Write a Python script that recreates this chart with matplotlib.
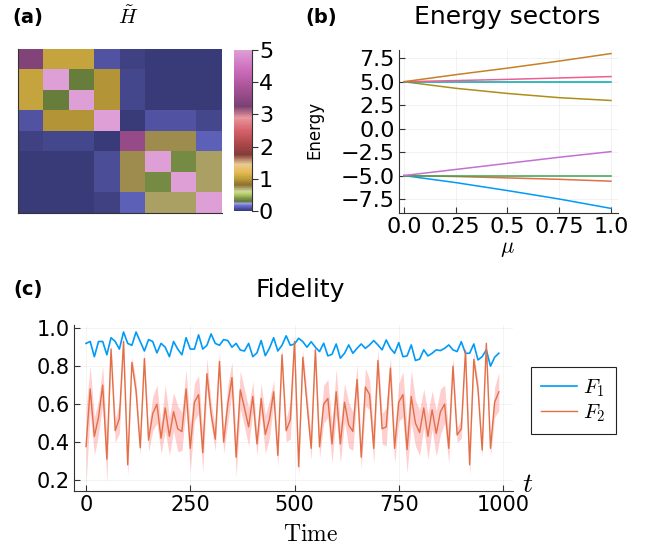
import matplotlib
matplotlib.use('Agg')
import matplotlib.pyplot as plt
import numpy as np
from matplotlib.colors import LinearSegmentedColormap

plt.rcParams['font.family'] = 'DejaVu Sans'
plt.rcParams['mathtext.fontset'] = 'cm'

# (a) matriz H~ (8x8)
H = [
    [3.35, 1.05, 1.05, 0.08, 0.02, 0.00, 0.00, 0.00],
    [1.05, 5.00, 0.32, 0.97, 0.05, 0.00, 0.01, 0.01],
    [1.05, 0.32, 5.00, 0.97, 0.05, 0.01, 0.00, 0.00],
    [0.08, 0.97, 0.97, 5.00, 0.01, 0.08, 0.08, 0.05],
    [0.03, 0.05, 0.05, 0.01, 3.60, 0.75, 0.75, 0.12],
    [0.00, 0.00, 0.01, 0.07, 0.75, 5.00, 0.36, 0.71],
    [0.00, 0.01, 0.01, 0.07, 0.75, 0.36, 5.00, 0.71],
    [0.00, 0.00, 0.00, 0.03, 0.12, 0.71, 0.71, 5.00],
]

# (b) energias vs mu
mu = [0.0, 0.25, 0.5, 0.75, 1.0]
energies = [
    [-5, -5.75, -6.6, -7.5, -8.5],
    [-5, -5.1, -5.25, -5.4, -5.6],
    [-5, -5.0, -5.0, -5.0, -5.0],
    [-5, -4.35, -3.7, -3.05, -2.45],
    [5, 4.3, 3.75, 3.3, 3.0],
    [5, 5.0, 5.0, 5.0, 5.0],
    [5, 5.12, 5.25, 5.4, 5.55],
    [5, 5.75, 6.45, 7.2, 8.0],
]
palette = ['#009af9', '#e26f46', '#3da44d', '#c271d2', '#ac8e18',
           '#00a9ad', '#ed5e93', '#c68125']

# (c) fidelidad
time = list(range(0, 1000, 10))
F1 = [0.92, 0.93, 0.85, 0.93, 0.93, 0.86, 0.95, 0.93, 0.89, 0.98, 0.92, 0.91, 0.98,
      0.93, 0.88, 0.94, 0.93, 0.87, 0.92, 0.90, 0.85, 0.93, 0.89, 0.86, 0.95,
      0.89, 0.89, 0.965, 0.89, 0.91, 0.97, 0.92, 0.91, 0.94, 0.935, 0.90, 0.92,
      0.885, 0.88, 0.92, 0.85, 0.87, 0.935, 0.855, 0.895, 0.95, 0.88, 0.91, 0.96, 0.91,
      0.917, 0.947, 0.929, 0.90, 0.929, 0.90, 0.877, 0.921, 0.854, 0.863, 0.917, 0.842,
      0.868, 0.912, 0.868, 0.894, 0.917, 0.894, 0.912, 0.935, 0.912, 0.886, 0.938, 0.894, 0.868,
      0.924, 0.85, 0.854, 0.912, 0.83, 0.837, 0.886, 0.854, 0.868, 0.886, 0.882, 0.894,
      0.912, 0.886, 0.877, 0.929, 0.868, 0.868, 0.917, 0.833, 0.85, 0.886, 0.80, 0.847, 0.868]
F2 = [0.376, 0.68, 0.43, 0.53, 0.70, 0.31, 0.89, 0.46, 0.525, 0.93, 0.28, 0.82, 0.67,
      0.37, 0.84, 0.41, 0.55, 0.60, 0.42, 0.58, 0.43, 0.56, 0.47, 0.455, 0.68,
      0.367, 0.61, 0.65, 0.344, 0.76, 0.55, 0.415, 0.825, 0.40, 0.60, 0.74, 0.32, 0.675,
      0.58, 0.48, 0.64, 0.39, 0.63, 0.44, 0.52, 0.665, 0.33, 0.86, 0.46, 0.517,
      0.93, 0.27, 0.847, 0.60, 0.367, 0.886, 0.375, 0.60, 0.63, 0.39, 0.665, 0.39, 0.61,
      0.49, 0.456, 0.73, 0.32, 0.69, 0.65, 0.367, 0.83, 0.47, 0.48, 0.79, 0.367,
      0.61, 0.65, 0.36, 0.64, 0.50, 0.45, 0.58, 0.43, 0.57, 0.445, 0.56, 0.60, 0.367,
      0.80, 0.437, 0.47, 0.88, 0.28, 0.836, 0.68, 0.358, 0.92, 0.367, 0.61, 0.665]
F2_err = [0.2, 0.12, 0.1, 0.09, 0.1, 0.12, 0.03, 0.06, 0.08, 0.04, 0.06, 0.03, 0.05,
          0.04, 0.04, 0.06, 0.09, 0.1, 0.08, 0.12, 0.1, 0.1, 0.12, 0.1, 0.1,
          0.12, 0.1, 0.1, 0.1, 0.08, 0.06, 0.06, 0.05, 0.06, 0.1, 0.08, 0.1, 0.1,
          0.1, 0.1, 0.08, 0.06, 0.08, 0.1, 0.1, 0.06, 0.06, 0.04, 0.06, 0.1,
          0.04, 0.05, 0.04, 0.06, 0.06, 0.04, 0.06, 0.1, 0.1, 0.1, 0.12, 0.1, 0.1,
          0.12, 0.1, 0.08, 0.06, 0.1, 0.08, 0.08, 0.06, 0.08, 0.1, 0.06, 0.08,
          0.1, 0.12, 0.12, 0.14, 0.12, 0.12, 0.1, 0.12, 0.1, 0.12, 0.12, 0.1, 0.08,
          0.05, 0.04, 0.05, 0.04, 0.06, 0.04, 0.04, 0.04, 0.03, 0.04, 0.08, 0.1]

# mapa de color tipo tab20b (no uniforme)
nodes = [(0.0, '#393b79'), (0.08, '#5254a3'), (0.16, '#6b6ecf'), (0.22, '#9c9ede'),
         (0.3, '#637939'), (0.42, '#8ca252'), (0.52, '#b5cf6b'), (0.6, '#cedb9c'),
         (0.8, '#8c6d31'), (1.0, '#bd9e39'), (1.2, '#e7ba52'), (1.45, '#e7cb94'),
         (1.75, '#843c39'), (2.1, '#ad494a'), (2.5, '#d6616b'), (2.9, '#e7969c'),
         (3.25, '#7b4173'), (3.8, '#a55194'), (4.4, '#ce6dbd'), (5.0, '#de9ed6')]
cmap = LinearSegmentedColormap.from_list('t20b', [(v / 5, c) for v, c in nodes])

W, Hpx = 650, 550
def box(l, t, r, b):
    return [l / W, 1 - b / Hpx, (r - l) / W, (b - t) / Hpx]

fig = plt.figure(figsize=(6.5, 5.5), dpi=100)
axcol = '#333333'

# ---- (a)
ax1 = fig.add_axes(box(18, 49, 222, 213))
im = ax1.imshow(np.array(H), cmap=cmap, vmin=0, vmax=5, aspect='auto',
                interpolation='nearest')
ax1.set_xticks([])
ax1.set_yticks([])
for s in ['top', 'right']:
    ax1.spines[s].set_visible(False)
for s in ['left', 'bottom']:
    ax1.spines[s].set_color(axcol)
cax = fig.add_axes(box(234, 50, 252, 211))
cb = fig.colorbar(im, cax=cax, ticks=[0, 1, 2, 3, 4, 5])
cb.outline.set_visible(False)
cax.spines['right'].set_visible(True)
cax.spines['right'].set_color(axcol)
cax.tick_params(labelsize=16, length=4, direction='out', color=axcol, pad=1)
fig.text(12 / W, 1 - 18 / Hpx, '(a)', fontsize=14, fontweight='bold', va='center')
fig.text(128 / W, 1 - 17 / Hpx, r'$\tilde{H}$', fontsize=15, ha='center', va='center')

# ---- (b)
ax2 = fig.add_axes(box(399, 50, 618, 213))
for E, c in zip(energies, palette):
    ax2.plot(mu, E, color=c, lw=1.1)
ax2.set_xlim(-0.024, 1.034)
ax2.set_ylim(-8.99, 8.38)
ax2.set_yticks([-7.5, -5.0, -2.5, 0.0, 2.5, 5.0, 7.5])
ax2.set_yticklabels(['\u22127.5', '\u22125.0', '\u22122.5', '0.0', '2.5', '5.0', '7.5'])
ax2.set_xticks([0, 0.25, 0.5, 0.75, 1.0])
ax2.set_xticklabels(['0.0', '0.25', '0.5', '0.75', '1.0'])
ax2.tick_params(labelsize=16, direction='in', length=4, color=axcol, pad=3)
ax2.grid(True, color='gray', alpha=0.12, lw=0.6)
for s in ['top', 'right']:
    ax2.spines[s].set_visible(False)
for s in ['left', 'bottom']:
    ax2.spines[s].set_color(axcol)
fig.text(305 / W, 1 - 18 / Hpx, '(b)', fontsize=14, fontweight='bold', va='center')
fig.text(507 / W, 1 - 17 / Hpx, 'Energy sectors', fontsize=18, ha='center', va='center')
fig.text(314 / W, 1 - 130 / Hpx, 'Energy', fontsize=12, rotation=90, ha='center', va='center')
fig.text(507 / W, 1 - 249 / Hpx, r'$\mu$', fontsize=16, ha='center', va='center')

# ---- (c)
ax3 = fig.add_axes(box(74, 325, 513, 491))
lo = [f - e for f, e in zip(F2, F2_err)]
hi = [f + e for f, e in zip(F2, F2_err)]
ax3.fill_between(time, lo, hi, color='#ff2020', alpha=0.22, lw=0)
ax3.plot(time, F1, color='#009af9', lw=1.2, label=r'$F_1$')
ax3.plot(time, F2, color='#e26f46', lw=1.0, label=r'$F_2$')
ax3.set_xlim(-28.8, 1024)
ax3.set_ylim(0.142, 1.017)
ax3.set_xticks([0, 250, 500, 750, 1000])
ax3.set_yticks([0.2, 0.4, 0.6, 0.8, 1.0])
ax3.set_yticklabels(['0.2', '0.4', '0.6', '0.8', '1.0'])
ax3.tick_params(labelsize=15, direction='in', length=4, color=axcol, pad=3)
ax3.grid(True, color='gray', alpha=0.1, lw=0.6)
for s in ['top', 'right']:
    ax3.spines[s].set_visible(False)
for s in ['left', 'bottom']:
    ax3.spines[s].set_color(axcol)
leg = ax3.legend(loc='upper left', bbox_to_anchor=(531 / W, 1 - 367 / Hpx),
                 bbox_transform=fig.transFigure, fontsize=15, fancybox=False,
                 framealpha=1, edgecolor='#222222', handlelength=1.7,
                 borderpad=0.5, labelspacing=0.15, handletextpad=0.3,
                 borderaxespad=0)
leg.get_frame().set_linewidth(0.8)
fig.text(13 / W, 1 - 290 / Hpx, '(c)', fontsize=14, fontweight='bold', va='center')
fig.text(300 / W, 1 - 290 / Hpx, 'Fidelity', fontsize=18, ha='center', va='center')
fig.text(311 / W, 1 - 534 / Hpx, r'$\mathrm{Time}$', fontsize=17, ha='center', va='center')
fig.text(528 / W, 1 - 484 / Hpx, r'$t$', fontsize=20, ha='center', va='center')

fig.savefig('out.png', dpi=100)
